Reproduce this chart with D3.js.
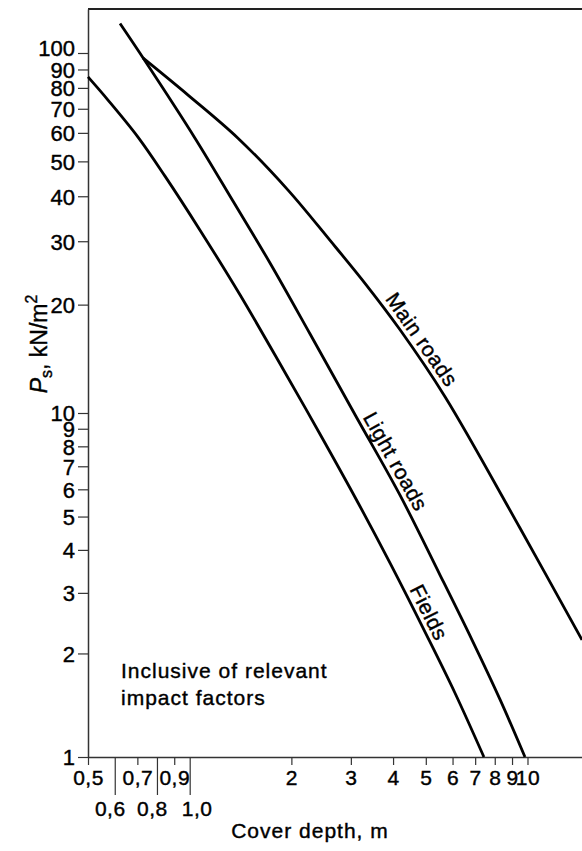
<!DOCTYPE html>
<html>
<head>
<meta charset="utf-8">
<script src="https://cdn.jsdelivr.net/npm/d3@7"></script>
<style>
  body { margin: 0; background: #fff; }
  text { font-family: "Liberation Sans", Arial, sans-serif; fill: #000; stroke: #000; stroke-width: 0.4px; }
</style>
</head>
<body>
<div id="chart"></div>
<script>
var width = 582, height = 851;

// cover depth (m) and load Ps (kN/m2)
var fieldsDepth = [0.5, 0.573, 0.703, 0.845, 1.073, 1.409, 1.889, 2.43, 3.13, 3.92, 5.04, 6.10, 7.43];
var fieldsPs    = [85.8, 74, 58.4, 45.5, 32.2, 21.3, 13.25, 8.69, 5.55, 3.66, 2.25, 1.535, 1];

var lightDepth = [0.622, 0.738, 1.037, 1.343, 1.729, 2.27, 3.09, 4.19, 5.51, 6.85, 8.29, 9.83];
var lightPs    = [120.4, 95, 58, 38.8, 26.1, 16.6, 9.87, 5.78, 3.38, 2.19, 1.47, 1];

var mainDepth = [0.727, 0.989, 1.39, 1.955, 2.60, 3.33, 4.20, 5.70, 9.50, 14.5];
var mainPs    = [96.9, 76.4, 58, 41.6, 30.2, 22.7, 17, 11.1, 4.63, 2.19];

var yTicks = [1, 2, 3, 4, 5, 6, 7, 8, 9, 10, 20, 30, 40, 50, 60, 70, 80, 90, 100];
var xTicks = [0.5, 0.6, 0.7, 0.8, 0.9, 1, 2, 3, 4, 5, 6, 7, 8, 9, 10];
var xLowRow = [0.6, 0.8, 1];

var curves = [
  { name: "Fields",      depth: fieldsDepth, ps: fieldsPs, labelX: 418 },
  { name: "Light roads", depth: lightDepth,  ps: lightPs,  labelX: 385 },
  { name: "Main roads",  depth: mainDepth,   ps: mainPs,   labelX: 412 }
];

var x = d3.scaleLog().domain([0.5, 14.5]).range([88, 582]);
// the printed upper decade is a little taller than the lower one
var y = d3.scaleLog().domain([1, 10, 100, 132]).range([757, 413, 53, 9]);

var svg = d3.select("#chart").append("svg")
    .attr("width", width)
    .attr("height", height);

// top frame line
svg.append("line")
    .attr("x1", x.range()[0]).attr("x2", x.range()[1])
    .attr("y1", y(132)).attr("y2", y(132))
    .attr("stroke", "#222").attr("stroke-width", 2);

var yAxis = d3.axisLeft(y)
    .tickValues(yTicks)
    .tickSize(10)
    .tickPadding(3)
    .tickSizeOuter(0)
    .tickFormat(d3.format("d"));

var gy = svg.append("g")
    .attr("transform", "translate(" + x(0.5) + ",0)")
    .call(yAxis);
gy.select(".domain").attr("stroke", "#333").attr("stroke-width", 1.5);
gy.selectAll(".tick line").attr("stroke", "#333").attr("stroke-width", 1.2);
gy.selectAll(".tick text")
    .style("font-size", "22px")
    .style("font-family", "'Liberation Sans', Arial, sans-serif")
    .attr("dy", function(d) { return d == 100 ? "0.1em" : "0.36em"; });

var xAxis = d3.axisBottom(x)
    .tickValues(xTicks)
    .tickSizeOuter(0)
    .tickFormat(function(d) {
        if (d < 1) return d.toFixed(1).replace(".", ",");
        if (d == 1) return "1,0";
        return d;
    });

var rowShift = { 0.6: -5, 0.8: -5, 1: 7 };

var gx = svg.append("g")
    .attr("transform", "translate(0," + y(1) + ")")
    .call(xAxis);
gx.select(".domain").attr("stroke", "#333").attr("stroke-width", 1.5);
gx.selectAll(".tick line")
    .attr("stroke", "#333").attr("stroke-width", 1.2)
    .attr("y2", function(d) { return xLowRow.indexOf(d) > -1 ? 38 : 8; });
gx.selectAll(".tick text")
    .style("font-size", "21px")
    .style("letter-spacing", "0.5px")
    .style("font-family", "'Liberation Sans', Arial, sans-serif")
    .attr("dy", 0)
    .attr("dx", function(d) { return rowShift[d] || 0; })
    .attr("y", function(d) { return xLowRow.indexOf(d) > -1 ? 59 : 28; });

// curves
var line = d3.line()
    .x(function(d) { return x(d[0]); })
    .y(function(d) { return y(d[1]); })
    .curve(d3.curveCatmullRom.alpha(0.5));

curves.forEach(function(c) {
    var pts = c.depth.map(function(dd, i) { return [dd, c.ps[i]]; });
    var path = svg.append("path")
        .datum(pts)
        .attr("d", line)
        .attr("fill", "none")
        .attr("stroke", "#000")
        .attr("stroke-width", 2.8);

    // put the label along the curve, just above it
    var node = path.node(), total = node.getTotalLength();
    var best = 0, bestDist = 1e9;
    for (var l = 0; l <= total; l += 1) {
        var p = node.getPointAtLength(l);
        if (Math.abs(p.x - c.labelX) < bestDist) { bestDist = Math.abs(p.x - c.labelX); best = l; }
    }
    var p0 = node.getPointAtLength(Math.max(0, best - 6));
    var p1 = node.getPointAtLength(Math.min(total, best + 6));
    var pm = node.getPointAtLength(best);
    var ang = Math.atan2(p1.y - p0.y, p1.x - p0.x);
    var off = 5;
    var tx = pm.x + Math.sin(ang) * off, ty = pm.y - Math.cos(ang) * off;
    svg.append("text")
        .attr("transform", "translate(" + tx + "," + ty + ") rotate(" + (ang * 180 / Math.PI) + ")")
        .attr("text-anchor", "middle")
        .style("font-size", "21px")
        .style("letter-spacing", "0.5px")
        .text(c.name);
});

// y axis title
var yt = svg.append("text")
    .attr("transform", "translate(47,344) rotate(-90)")
    .attr("text-anchor", "middle")
    .style("font-size", "23px");
yt.append("tspan").style("font-style", "italic").text("P");
yt.append("tspan").attr("dy", 5).style("font-size", "16px").text("s");
yt.append("tspan").attr("dy", -5).text(", kN/m");
yt.append("tspan").attr("dy", -10).style("font-size", "16px").text("2");

// x axis title
svg.append("text")
    .attr("x", 310).attr("y", 838)
    .attr("text-anchor", "middle")
    .style("font-size", "21px")
    .style("letter-spacing", "1px")
    .text("Cover depth, m");

// note
var note = svg.append("text")
    .attr("x", 121).attr("y", 678)
    .style("font-size", "21px")
    .style("letter-spacing", "1px");
note.append("tspan").attr("x", 121).text("Inclusive of relevant");
note.append("tspan").attr("x", 121).attr("dy", 27).text("impact factors");
</script>
</body>
</html>
